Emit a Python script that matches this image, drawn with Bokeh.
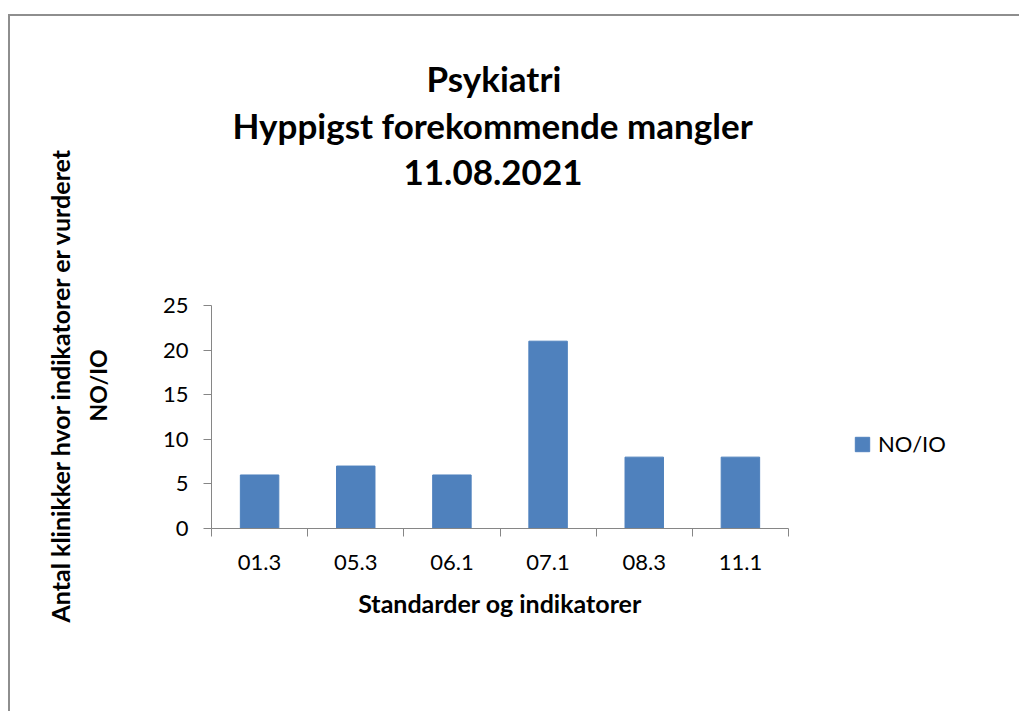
from bokeh.plotting import figure
from bokeh.models import Range1d, FixedTicker, Title
from bokeh.embed import file_html
from bokeh.resources import INLINE

# ---- data ----
categories = ["01.3", "05.3", "06.1", "07.1", "08.3", "11.1"]
values = [6, 7, 6, 21, 8, 8]
series_name = "NO/IO"
y_ticks = [0, 5, 10, 15, 20, 25]
title_lines = ["Psykiatri", "Hyppigst forekommende mangler", "11.08.2021"]
x_title = "Standarder og indikatorer"
y_title_lines = ["Antal klinikker hvor indikatorer er vurderet", "NO/IO"]

FONT = "Lato"
BAR = "#4F81BD"
AXIS = "#868686"

n = len(categories)
xs = [i + 0.5 for i in range(n)]

p = figure(frame_width=577, frame_height=223, output_backend="svg", toolbar_location=None,
           x_range=Range1d(0, n), y_range=Range1d(0, 25),
           min_border_left=201, min_border_right=231,
           min_border_top=289, min_border_bottom=185,
           margin=(16, 0, 0, 10),
           styles={"box-shadow": "-2px -2px 0 0 #8E8E8E, 0 -2px 0 0 #8E8E8E"})
p.outline_line_color = None
p.xgrid.visible = False
p.ygrid.visible = False
p.background_fill_color = "white"
p.border_fill_color = "white"

p.vbar(x=xs, top=values, width=0.4, bottom=0, fill_color=BAR, line_color=BAR,
       legend_label=series_name)

# x axis: labels at centers, ticks at category boundaries
xa = p.xaxis[0]
xa.ticker = FixedTicker(ticks=xs, minor_ticks=list(range(n + 1)))
xa.major_label_overrides = {x: c for x, c in zip(xs, categories)}
xa.major_tick_line_color = None
xa.minor_tick_line_color = AXIS
xa.minor_tick_out = 8
xa.minor_tick_in = 0
xa.axis_line_color = AXIS
xa.major_label_text_font = FONT
xa.major_label_text_font_size = "22px"
xa.major_label_text_color = "black"
xa.major_label_standoff = 18
xa.axis_label = x_title
xa.axis_label_text_font = FONT
xa.axis_label_text_font_size = "25px"
xa.axis_label_text_font_style = "bold"
xa.axis_label_text_color = "black"
xa.axis_label_standoff = 15

ya = p.yaxis[0]
ya.ticker = FixedTicker(ticks=y_ticks, minor_ticks=[])
ya.major_tick_line_color = AXIS
ya.major_tick_out = 8
ya.major_tick_in = 0
ya.minor_tick_line_color = None
ya.axis_line_color = AXIS
ya.major_label_text_font = FONT
ya.major_label_text_font_size = "22px"
ya.major_label_text_color = "black"
ya.major_label_standoff = 15

# spacer between frame and title block
p.add_layout(Title(text=" ", text_font_size="1px", standoff=108), "above")
# title lines (added nearest-first), left-aligned with offsets so the block centres at x~491
title_offsets = [215, 21, 192]
title_standoffs = [2, 4, 20]
for txt, off, so in zip(reversed(title_lines), reversed(title_offsets), reversed(title_standoffs)):
    p.add_layout(Title(text=txt, align="left", offset=off, text_font=FONT,
                       text_font_size="35px", text_font_style="bold",
                       text_color="black", standoff=so), "above")

# spacer between y axis and its title
p.add_layout(Title(text=" ", text_font_size="1px", standoff=42), "left")
y_offsets = [-94, 107]
y_sizes = ["25px", "23px"]
y_standoffs = [8, 6]
for txt, off, fs, so in zip(reversed(y_title_lines), reversed(y_offsets),
                            reversed(y_sizes), reversed(y_standoffs)):
    p.add_layout(Title(text=txt, align="left", offset=off, text_font=FONT,
                       text_font_size=fs, text_font_style="bold",
                       text_color="black", standoff=so), "left")

lg = p.legend[0]
p.center.remove(lg)
p.add_layout(lg, "right")
lg.location = (65, 71)
lg.border_line_color = None
lg.background_fill_alpha = 0
lg.padding = 0
lg.margin = 0
lg.spacing = 0
lg.glyph_width = 18
lg.glyph_height = 18
lg.label_standoff = 7
lg.label_text_font = FONT
lg.label_text_font_size = "22px"
lg.label_text_color = "black"

open("out.html", "w").write(file_html(p, INLINE))
